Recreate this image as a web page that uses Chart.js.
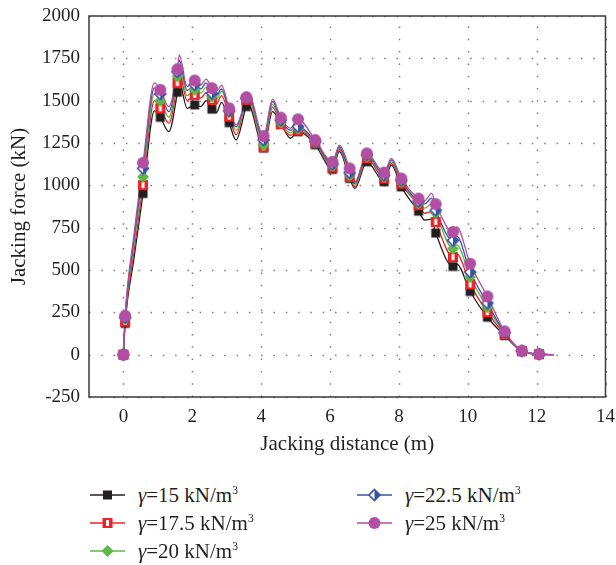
<!DOCTYPE html>
<html>
<head>
<meta charset="utf-8">
<script src="https://cdn.jsdelivr.net/npm/chart.js@4.4.1/dist/chart.umd.min.js"></script>
<style>
  body { margin: 0 ; background: #fff ; }
  #wrap { position: relative ; width: 616px ; height: 565px ; font-family: 'Liberation Serif', serif ; color: #231f20 ; }
  #chartCanvas { position: absolute ; left: 0 ; top: 0 ; }
  .legend-item { position: absolute ; height: 28px ; display: flex ; align-items: center ; font-size: 21px ; white-space: nowrap ; }
  .legend-item canvas { margin-right: 13px ; }
  .sup { font-size: 0.55em ; position: relative ; top: -0.65em ; }
</style>
</head>
<body>
<div id="wrap">
  <canvas id="chartCanvas" width="616" height="460" style="width:616px;height:460px"></canvas>
  <div id="legend"></div>
</div>
<script>
// ---------------- Data ---------------------------------------------------
const X_TICKS = [ 0, 2, 4, 6, 8, 10, 12, 14 ] ;
const Y_TICKS = [ -250, 0, 250, 500, 750, 1000, 1250, 1500, 1750, 2000 ] ;
const X_MIN = -1 ;

const SERIES_LABELS = [ '15', '17.5', '20', '22.5', '25' ] ;

// jacking distance (m) of every traced point of the curves
const LINE_X = [ 0, 0.05, 0.3, 0.57, 0.9, 1.07, 1.32, 1.57, 1.62, 1.85,
                 2.07, 2.25, 2.4, 2.57, 2.7, 2.85, 3.07, 3.27, 3.57, 3.62,
                 4.07, 4.33, 4.57, 4.85, 5.07, 5.57, 6.07, 6.27, 6.57, 6.72,
                 7.07, 7.57, 7.78, 8.07, 8.57, 8.75, 8.95, 9.07, 9.57, 9.68,
                 10.07, 10.57, 11.07, 11.57, 12.07, 12.5 ] ;

// distances where the curves carry a marker
const MARK_X = [ 0, 0.05, 0.57, 1.07, 1.57, 2.07, 2.57, 3.07, 3.57, 4.07,
                 4.57, 5.07, 5.57, 6.07, 6.57, 7.07, 7.57, 8.07, 8.57, 9.07,
                 9.57, 10.07, 10.57, 11.07, 11.57, 12.07 ] ;

// jacking force (kN)
const FORCE_15   = [ 0, 185, 560, 952, 1440, 1402, 1317, 1550, 1610, 1455,
                     1475, 1465, 1500, 1450, 1430, 1490, 1370, 1268, 1465, 1480,
                     1220, 1435, 1367, 1278, 1317, 1240, 1094, 1199, 1041, 982,
                     1139, 1021, 1120, 991, 847, 795, 800, 718, 521, 535,
                     373, 221, 113, 20, 2, 0 ] ;
const FORCE_17_5 = [ 0, 195, 600, 1001, 1500, 1455, 1367, 1604, 1665, 1500,
                     1534, 1515, 1548, 1505, 1480, 1530, 1406, 1300, 1505, 1522,
                     1225, 1462, 1360, 1295, 1325, 1250, 1105, 1210, 1050, 990,
                     1160, 1040, 1130, 1010, 883, 835, 845, 784, 576, 595,
                     415, 251, 120, 21, 3, 0 ] ;
const FORCE_20   = [ 0, 213, 640, 1050, 1540, 1500, 1402, 1643, 1705, 1530,
                     1564, 1545, 1578, 1524, 1505, 1555, 1435, 1325, 1510, 1532,
                     1238, 1478, 1370, 1310, 1335, 1255, 1115, 1220, 1060, 1000,
                     1170, 1050, 1140, 1020, 895, 865, 890, 837, 626, 650,
                     458, 280, 125, 22, 3, 0 ] ;
const FORCE_22_5 = [ 0, 220, 670, 1100, 1575, 1540, 1435, 1670, 1740, 1560,
                     1594, 1570, 1605, 1544, 1530, 1570, 1440, 1345, 1515, 1540,
                     1268, 1495, 1385, 1325, 1347, 1260, 1125, 1228, 1075, 1010,
                     1180, 1060, 1150, 1030, 905, 890, 925, 853, 675, 700,
                     488, 304, 130, 22, 3, 0 ] ;
const FORCE_25   = [ 0, 230, 700, 1133, 1605, 1564, 1465, 1686, 1770, 1584,
                     1619, 1595, 1627, 1574, 1555, 1590, 1455, 1357, 1520, 1548,
                     1291, 1509, 1400, 1337, 1390, 1268, 1139, 1238, 1100, 1021,
                     1189, 1076, 1159, 1041, 922, 910, 952, 889, 725, 754,
                     537, 344, 138, 24, 4, 0 ] ;

// ---------------- Styles -------------------------------------------------
const FONT_FAMILY = "'Liberation Serif', serif" ;
const TEXT_COLOR = '#231f20' ;
const SERIES = [
    { values: FORCE_15,   color: '#231f20', marker: 'square'      },
    { values: FORCE_17_5, color: '#ec2227', marker: 'openSquare'  },
    { values: FORCE_20,   color: '#5fb748', marker: 'diamond'     },
    { values: FORCE_22_5, color: '#3a54a4', marker: 'halfDiamond' },
    { values: FORCE_25,   color: '#b24fa2', marker: 'circle'      }
] ;

// ---------------- Marker drawing -----------------------------------------
function drawMarker( ctx, kind, color, cx, cy ) {

    ctx.save() ;
    ctx.fillStyle = color ;
    ctx.strokeStyle = color ;

    if( kind == 'square' ) {
        ctx.fillRect( cx - 4.5, cy - 4.5, 9, 9 ) ;
    }
    else if( kind == 'openSquare' ) {
        ctx.fillRect( cx - 5, cy - 5, 10, 10 ) ;
        ctx.fillStyle = '#fff' ;
        ctx.fillRect( cx - 1.5, cy - 3, 3, 6 ) ;
    }
    else if( kind == 'diamond' ) {
        ctx.beginPath() ;
        ctx.moveTo( cx, cy - 6 ) ; ctx.lineTo( cx + 6, cy ) ;
        ctx.lineTo( cx, cy + 6 ) ; ctx.lineTo( cx - 6, cy ) ;
        ctx.closePath() ;
        ctx.fill() ;
    }
    else if( kind == 'halfDiamond' ) {
        ctx.beginPath() ;
        ctx.moveTo( cx, cy - 5.5 ) ; ctx.lineTo( cx + 5.5, cy ) ;
        ctx.lineTo( cx, cy + 5.5 ) ; ctx.lineTo( cx - 5.5, cy ) ;
        ctx.closePath() ;
        ctx.fillStyle = '#fff' ;
        ctx.fill() ;
        ctx.lineWidth = 1.6 ;
        ctx.stroke() ;
        ctx.beginPath() ;
        ctx.moveTo( cx, cy - 5.5 ) ; ctx.lineTo( cx + 5.5, cy ) ;
        ctx.lineTo( cx, cy + 5.5 ) ;
        ctx.closePath() ;
        ctx.fillStyle = color ;
        ctx.fill() ;
    }
    else if( kind == 'circle' ) {
        ctx.beginPath() ;
        ctx.arc( cx, cy, 6, 0, Math.PI * 2 ) ;
        ctx.fill() ;
    }
    ctx.restore() ;
}

function makePointCanvas( kind, color ) {
    var c = document.createElement( 'canvas' ) ;
    c.width = 16 ;
    c.height = 16 ;
    drawMarker( c.getContext( '2d' ), kind, color, 8, 8 ) ;
    return c ;
}

// ---------------- Datasets -----------------------------------------------
function linePoints( values ) {
    return LINE_X.map( function( x, i ) { return { x: x, y: values[i] } ; } ) ;
}

function markPoints( values ) {
    return linePoints( values ).filter( function( p ) {
        return MARK_X.indexOf( p.x ) >= 0 ;
    } ) ;
}

var markerSets = [] ;
var lineSets = [] ;

SERIES.forEach( function( s ) {
    markerSets.push( {
        data        : markPoints( s.values ),
        showLine    : false,
        pointStyle  : makePointCanvas( s.marker, s.color ),
        pointRadius : 6,
        borderColor : s.color,
        backgroundColor : s.color
    } ) ;
    lineSets.push( {
        data        : linePoints( s.values ),
        showLine    : true,
        pointRadius : 0,
        borderColor : s.color,
        borderWidth : 1.3,
        cubicInterpolationMode : 'monotone'
    } ) ;
} ) ;

// dataset 0 is painted last, so the purple series ends up on top
var datasets = markerSets.reverse().concat( lineSets.reverse() ) ;

// ---------------- Plugins ------------------------------------------------
// dotted grid at every tick, then the closed frame round the plot area
const dottedGrid = {
    id: 'dottedGrid',
    beforeDatasetsDraw: function( chart ) {
        var a = chart.chartArea ;
        var ctx = chart.ctx ;
        var xs = chart.scales.x ;
        var ys = chart.scales.y ;
        ctx.save() ;
        ctx.strokeStyle = '#7d7d7d' ;
        ctx.lineWidth = 1.5 ;
        ctx.setLineDash( [ 1.5, 10.8 ] ) ;
        X_TICKS.forEach( function( v ) {
            var px = Math.round( xs.getPixelForValue( v ) ) + 0.5 ;
            ctx.beginPath() ;
            ctx.moveTo( px, a.bottom ) ;
            ctx.lineTo( px, a.top ) ;
            ctx.stroke() ;
        } ) ;
        Y_TICKS.forEach( function( v ) {
            var py = Math.round( ys.getPixelForValue( v ) ) + 0.5 ;
            ctx.beginPath() ;
            ctx.moveTo( a.left, py ) ;
            ctx.lineTo( a.right, py ) ;
            ctx.stroke() ;
        } ) ;
        ctx.restore() ;
    },
    afterDatasetsDraw: function( chart ) {
        var a = chart.chartArea ;
        var ctx = chart.ctx ;
        ctx.save() ;
        ctx.strokeStyle = '#3a3a3a' ;
        ctx.lineWidth = 1.5 ;
        ctx.strokeRect( a.left, a.top, a.right - a.left, a.bottom - a.top ) ;
        ctx.restore() ;
    }
} ;

// ---------------- Chart --------------------------------------------------
function axisOptions( min, ticks, title, fitFn, tickPad, titlePad ) {
    return {
        type : 'linear',
        min  : min,
        max  : ticks[ ticks.length - 1 ],
        afterBuildTicks : function( scale ) {
            scale.ticks = ticks.map( function( v ) { return { value: v } ; } ) ;
        },
        afterFit : fitFn,
        grid : { display: false },
        border : { display: false },
        ticks : {
            padding : tickPad,
            color : TEXT_COLOR,
            font : { family: FONT_FAMILY, size: 19 },
            callback : function( value ) { return String( value ) ; }
        },
        title : {
            display : true,
            text : title,
            color : TEXT_COLOR,
            font : { family: FONT_FAMILY, size: 21 },
            padding : titlePad
        }
    } ;
}

var canvas = document.getElementById( 'chartCanvas' ) ;
var chart = new Chart( canvas, {
    type : 'scatter',
    data : { datasets: datasets },
    options : {
        responsive : false,
        animation : false,
        events : [],
        layout : { padding: { top: 16, right: 10, left: 0, bottom: 0 } },
        plugins : { legend: { display: false }, tooltip: { enabled: false } },
        scales : {
            x : axisOptions( X_MIN, X_TICKS, 'Jacking distance (m)',
                             function( s ) { s.height = 63 ; }, 1,
                             { top: 0, bottom: 3 } ),
            y : axisOptions( Y_TICKS[0], Y_TICKS, 'Jacking force (kN)',
                             function( s ) { s.width = 89 ; }, 1,
                             { top: 7, bottom: 0 } )
        }
    },
    plugins : [ dottedGrid ]
} ) ;

// ---------------- Legend -------------------------------------------------
const LEGEND_SLOTS = [ [ 90, 481 ], [ 90, 509 ], [ 90, 537 ], [ 357, 481 ], [ 357, 509 ] ] ;

var legend = document.getElementById( 'legend' ) ;
SERIES.forEach( function( s, i ) {
    var item = document.createElement( 'div' ) ;
    item.className = 'legend-item' ;
    item.style.left = LEGEND_SLOTS[i][0] + 'px' ;
    item.style.top = LEGEND_SLOTS[i][1] + 'px' ;

    var sym = document.createElement( 'canvas' ) ;
    sym.width = 35 ;
    sym.height = 16 ;
    var ctx = sym.getContext( '2d' ) ;
    ctx.strokeStyle = s.color ;
    ctx.lineWidth = 1.4 ;
    ctx.beginPath() ;
    ctx.moveTo( 0, 8 ) ;
    ctx.lineTo( 35, 8 ) ;
    ctx.stroke() ;
    drawMarker( ctx, s.marker, s.color, 17.5, 8 ) ;
    item.appendChild( sym ) ;

    var label = document.createElement( 'span' ) ;
    label.innerHTML = '<i>γ</i>=' + SERIES_LABELS[i] + ' kN/m<span class="sup">3</span>' ;
    item.appendChild( label ) ;
    legend.appendChild( item ) ;
} ) ;
</script>
</body>
</html>
